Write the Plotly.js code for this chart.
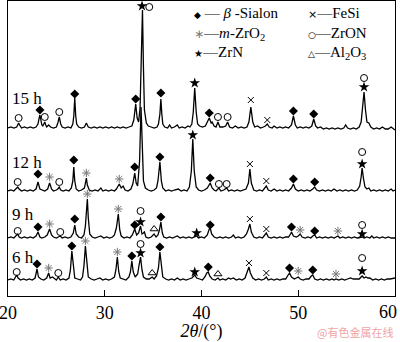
<!DOCTYPE html>
<html>
<head>
<meta charset="utf-8">
<script src="https://cdn.plot.ly/plotly-3.0.1.min.js"></script>
<style>html,body{margin:0;padding:0;background:#fff;}#chart{width:400px;height:342px;}</style>
</head>
<body>
<div id="chart"></div>
<script>
// XRD patterns: [2theta, intensity above own baseline]
const pattern15h = [[20.0,0],[20.3,1],[20.6,0],[20.9,1],[21.0,3],[21.1,5],[21.2,3],[21.4,0],[21.7,1],[22.0,0],[22.3,1],[22.6,0],[22.9,1],[23.1,4],[23.2,9],[23.3,13],[23.4,8],[23.5,3],[23.6,2],[23.7,4],[23.8,6],[23.9,3],[24.0,1],[24.2,3],[24.4,1],[24.7,0],[25.0,1],[25.15,5],[25.3,11],[25.45,4],[25.6,1],[25.9,0],[26.2,1],[26.5,0],[26.7,4],[26.8,12],[26.9,30],[27.0,12],[27.1,4],[27.3,1],[27.6,0],[27.9,1],[28.1,5],[28.3,1],[28.6,0],[28.9,1],[29.2,0],[29.5,1],[29.8,0],[30.1,1],[30.4,0],[30.7,1],[31.0,0],[31.3,1],[31.6,0],[31.9,1],[32.2,0],[32.5,1],[32.8,2],[33.0,8],[33.2,24],[33.35,10],[33.5,6],[33.65,20],[33.8,100],[33.9,118],[34.0,60],[34.1,18],[34.3,5],[34.5,2],[34.8,1],[35.1,0],[35.4,1],[35.55,4],[35.7,14],[35.8,29],[35.9,14],[36.0,4],[36.2,1],[36.5,0],[36.7,3],[36.9,0],[37.2,1],[37.5,3],[37.7,0],[38.0,1],[38.3,0],[38.6,2],[38.8,1],[39.0,4],[39.15,16],[39.3,40],[39.45,16],[39.6,4],[39.8,2],[40.1,1],[40.4,2],[40.6,6],[40.8,10],[41.0,5],[41.1,6],[41.3,2],[41.5,1],[41.7,6],[41.9,1],[42.2,1],[42.5,2],[42.7,6],[42.9,1],[43.2,0],[43.5,2],[43.8,0],[44.1,1],[44.4,0],[44.7,1],[44.9,6],[45.1,21],[45.3,6],[45.5,1],[45.8,2],[46.1,0],[46.4,1],[46.6,2],[46.8,4],[47.0,1],[47.3,0],[47.5,2],[47.8,0],[48.1,1],[48.4,0],[48.7,1],[49.0,0],[49.3,3],[49.5,12],[49.7,3],[49.9,0],[50.2,1],[50.5,0],[50.8,1],[51.1,0],[51.4,2],[51.6,9],[51.8,2],[52.0,0],[52.3,1],[52.6,-1],[52.9,0],[53.2,-1],[53.5,0],[53.8,-1],[54.1,0],[54.4,-1],[54.7,0],[54.9,3],[55.1,0],[55.4,-1],[55.7,0],[56.0,-1],[56.3,1],[56.5,6],[56.65,20],[56.8,36],[56.95,18],[57.1,6],[57.3,5],[57.5,1],[57.8,-1],[58.1,0],[58.4,-1],[58.7,1],[59.0,-1],[59.3,-1],[59.6,1],[59.8,-1],[60.0,-2]];

const pattern12h = [[20.0,0],[20.3,1],[20.6,0],[20.85,2],[21.0,4],[21.15,2],[21.4,0],[21.7,1],[22.0,0],[22.3,1],[22.6,0],[22.9,2],[23.1,9],[23.3,2],[23.5,1],[23.8,0],[24.1,2],[24.3,8],[24.5,2],[24.7,0],[25.0,1],[25.15,2],[25.3,4],[25.45,1],[25.7,0],[26.0,1],[26.3,0],[26.55,3],[26.7,10],[26.8,24],[26.9,10],[27.05,2],[27.3,0],[27.6,1],[27.9,3],[28.0,8],[28.1,13],[28.2,6],[28.4,1],[28.7,0],[29.0,1],[29.3,0],[29.6,3],[29.8,0],[30.1,1],[30.4,0],[30.7,1],[31.0,0],[31.2,2],[31.5,7],[31.7,3],[31.9,5],[32.1,1],[32.4,0],[32.7,2],[32.9,7],[33.1,18],[33.25,8],[33.4,5],[33.6,30],[33.75,84],[33.9,40],[34.0,10],[34.2,3],[34.5,1],[34.8,0],[35.1,1],[35.35,3],[35.5,10],[35.7,29],[35.85,10],[36.0,3],[36.3,0],[36.6,1],[36.9,0],[37.2,1],[37.6,2],[37.9,0],[38.2,1],[38.5,0],[38.75,4],[38.95,20],[39.1,52],[39.25,20],[39.45,4],[39.7,1],[40.0,0],[40.3,1],[40.6,3],[40.9,8],[41.1,3],[41.3,1],[41.5,0],[41.8,3],[42.0,0],[42.3,1],[42.6,3],[42.8,0],[43.1,1],[43.4,0],[43.7,1],[44.0,0],[44.3,1],[44.6,2],[44.85,8],[45.0,22],[45.15,8],[45.4,1],[45.7,0],[46.0,1],[46.3,0],[46.5,2],[46.7,5],[46.9,1],[47.2,0],[47.5,2],[47.8,0],[48.1,1],[48.4,0],[48.7,1],[49.0,0],[49.3,3],[49.5,7],[49.7,2],[50.0,0],[50.3,1],[50.6,0],[50.9,1],[51.2,0],[51.5,2],[51.7,4],[51.9,1],[52.2,0],[52.5,1],[52.8,0],[53.1,1],[53.4,0],[53.7,2],[54.0,0],[54.3,1],[54.6,0],[54.9,1],[55.2,0],[55.5,1],[55.8,0],[56.1,1],[56.35,5],[56.5,14],[56.6,23],[56.75,12],[56.9,4],[57.1,2],[57.3,3],[57.5,0],[57.8,1],[58.1,0],[58.4,1],[58.7,0],[59.0,1],[59.3,0],[59.6,2],[59.8,0],[60.0,1]];

const pattern9h = [[20.0,0],[20.3,1],[20.6,0],[20.85,2],[21.0,4],[21.15,1],[21.4,0],[21.7,1],[22.0,0],[22.3,1],[22.6,0],[22.9,2],[23.1,6],[23.3,1],[23.5,0],[23.8,1],[24.05,3],[24.3,9],[24.5,3],[24.7,1],[25.0,0],[25.2,1],[25.4,2],[25.6,0],[25.9,1],[26.2,0],[26.5,1],[26.75,5],[26.9,13],[27.05,4],[27.3,1],[27.6,0],[27.85,3],[28.0,12],[28.1,28],[28.2,39],[28.3,20],[28.45,4],[28.7,1],[29.0,0],[29.3,1],[29.6,2],[29.9,0],[30.2,1],[30.5,0],[30.8,1],[31.0,3],[31.2,10],[31.4,24],[31.55,8],[31.7,2],[32.0,0],[32.3,1],[32.6,0],[32.85,3],[33.1,9],[33.3,3],[33.5,5],[33.7,12],[33.85,4],[34.0,5],[34.1,6],[34.25,1],[34.5,0],[34.8,1],[35.1,4],[35.3,1],[35.5,3],[35.65,8],[35.8,16],[35.95,5],[36.1,1],[36.4,0],[36.7,1],[37.0,0],[37.3,1],[37.5,2],[37.8,0],[38.1,1],[38.4,0],[38.7,1],[39.0,0],[39.3,1],[39.5,2],[39.7,0],[40.0,1],[40.3,0],[40.6,3],[40.8,9],[40.9,10],[41.05,4],[41.3,1],[41.6,0],[41.9,1],[42.2,0],[42.5,1],[42.8,0],[43.1,1],[43.3,3],[43.5,0],[43.8,1],[44.1,0],[44.4,1],[44.65,4],[44.85,9],[45.0,14],[45.15,6],[45.4,1],[45.7,0],[46.0,1],[46.3,0],[46.5,2],[46.7,5],[46.9,1],[47.2,0],[47.5,1],[47.8,0],[48.1,1],[48.4,0],[48.7,1],[49.0,1],[49.2,4],[49.3,6],[49.5,2],[49.8,1],[50.0,2],[50.2,4],[50.4,1],[50.7,0],[51.0,1],[51.3,0],[51.5,2],[51.7,3],[51.9,0],[52.2,1],[52.5,0],[52.8,1],[53.1,0],[53.4,1],[53.7,0],[54.0,1],[54.1,2],[54.3,0],[54.6,1],[54.9,0],[55.2,1],[55.5,0],[55.8,1],[56.1,0],[56.4,1],[56.6,1],[56.8,0],[57.1,1],[57.4,0],[57.6,2],[57.8,0],[58.1,1],[58.4,0],[58.7,1],[59.0,0],[59.3,1],[59.6,0],[60.0,0]];

const pattern6h = [[20.0,0],[20.3,1],[20.6,0],[20.8,3],[20.9,5],[21.05,2],[21.3,0],[21.6,1],[21.9,0],[22.2,1],[22.5,0],[22.8,2],[22.9,6],[23.0,11],[23.15,3],[23.4,1],[23.7,0],[24.0,2],[24.2,7],[24.35,2],[24.6,3],[24.8,1],[25.0,0],[25.2,3],[25.4,0],[25.7,1],[26.0,0],[26.3,2],[26.45,10],[26.6,29],[26.75,12],[26.9,2],[27.2,1],[27.5,0],[27.7,3],[27.85,14],[28.0,34],[28.15,14],[28.3,3],[28.6,1],[28.9,0],[29.2,1],[29.5,2],[29.8,0],[30.1,1],[30.4,0],[30.7,1],[31.0,3],[31.15,10],[31.3,23],[31.45,8],[31.6,2],[31.9,1],[32.2,0],[32.5,3],[32.65,8],[32.8,19],[32.95,8],[33.15,3],[33.4,6],[33.55,15],[33.7,23],[33.85,10],[34.0,3],[34.3,1],[34.6,1],[34.9,3],[35.1,1],[35.35,4],[35.55,12],[35.7,28],[35.85,12],[36.0,3],[36.3,1],[36.6,0],[36.9,1],[37.2,0],[37.5,2],[37.8,0],[38.1,1],[38.4,0],[38.7,1],[39.0,2],[39.3,5],[39.5,2],[39.8,1],[40.1,0],[40.35,3],[40.55,7],[40.7,8],[40.85,4],[41.1,1],[41.4,0],[41.7,2],[41.9,0],[42.2,1],[42.5,0],[42.8,2],[43.0,1],[43.3,2],[43.6,0],[43.9,1],[44.2,0],[44.5,2],[44.75,8],[44.9,13],[45.05,7],[45.3,2],[45.6,0],[45.9,1],[46.2,0],[46.5,1],[46.7,3],[46.9,0],[47.2,1],[47.5,0],[47.8,1],[48.1,0],[48.4,1],[48.7,1],[48.95,5],[49.1,7],[49.3,3],[49.6,1],[49.8,2],[50.0,3],[50.2,1],[50.5,0],[50.8,1],[51.1,1],[51.35,4],[51.5,5],[51.7,1],[52.0,0],[52.3,1],[52.6,0],[52.9,1],[53.2,0],[53.5,1],[53.7,0],[53.9,1],[54.2,0],[54.5,1],[54.8,0],[55.1,1],[55.4,2],[55.7,1],[56.0,1],[56.3,1],[56.5,3],[56.6,4],[56.8,2],[57.0,3],[57.2,2],[57.4,2],[57.7,0],[58.0,1],[58.3,0],[58.6,1],[58.9,0],[59.2,1],[59.5,1],[59.8,2],[60.0,2]];

// stacking offsets of each pattern (same intensity units)
const seriesNames = ['15 h','12 h','9 h','6 h'];
const seriesOffsets = [168, 105, 58, 16];

// phase identification marks (2theta, stacked intensity)
const betaX = [23.3,26.9,33.2,35.8,40.8,49.5,51.6, 23.1,26.8,33.1,35.7,40.9,49.5,51.7, 23.1,26.9,33.1,35.8,40.9,49.3,51.7, 23.0,26.6,32.8,35.7,40.7,49.1,51.5];
const betaY = [186,202,197,203,183,185,182, 122,136,129,139,118,117,114, 69,77,71,79,71,69,65, 32,50,40,49,29,28,26];
const zro2X = [24.3,28.1,31.5, 24.3,28.2,31.4,50.2,54.1, 24.2,28.0,31.3,50.0,53.9];
const zro2Y = [119,123,117, 72,102,87,66,65, 28,55,44,25,22];
const zrnX = [33.85,39.3,56.8, 39.1,56.6, 33.7,39.5,56.6, 33.7,39.3,56.6];
const zrnY = [290,213,209, 161,132, 74,63,62, 43,24,25];
const zronX = [21.1,23.8,25.3,34.6,41.7,42.7,56.8, 21.0,25.3,41.8,42.6,56.6, 21.0,25.4,33.7,56.6, 20.9,25.2,33.7,56.6];
const zronY = [178,179,184,289,179,179,218, 114,114,112,112,144, 65,64,85,71, 24,23,52,38];
const fesiX = [45.1,46.8, 45.0,46.7, 45.0,46.7, 44.9,46.7];
const fesiY = [196,176, 132,115, 77,67, 33,23];
const al2o3X = [35.1, 34.9, 41.7];
const al2o3Y = [67, 23, 22];

const xTicks = [20,30,40,50,60];
const xTickText = ['20','30','40','50',''];   // "60" is drawn slightly inset, as in the source figure
const lastTickLabel = '60';

const FONT = 'Liberation Serif, Times New Roman, serif';
const patterns = [pattern15h, pattern12h, pattern9h, pattern6h];
const traces = patterns.map((p, i) => ({
  type: 'scatter', mode: 'lines', name: seriesNames[i],
  x: p.map(d => d[0]), y: p.map(d => d[1] + seriesOffsets[i]),
  line: {color: '#000', width: 1.3}, hoverinfo: 'skip'
}));

function marks(x, y, symbol, size, color, filled) {
  return {
    type: 'scatter', mode: 'markers', x: x, y: y, hoverinfo: 'skip',
    marker: filled ? {symbol: symbol, size: size, color: color, line: {width: 0}}
                   : {symbol: symbol, size: size, color: color, line: {color: color, width: 1}}
  };
}
traces.push(marks(betaX, betaY, 'diamond', 7, '#000', true));
traces.push(marks(zro2X, zro2Y, 'asterisk-open', 7, '#777', false));
traces.push(marks(zrnX, zrnY, 'star', 8, '#000', true));
traces.push(marks(zronX, zronY, 'circle-open', 7, '#000', false));
traces.push(marks(fesiX, fesiY, 'x-thin-open', 6, '#000', false));
traces.push(marks(al2o3X, al2o3Y, 'triangle-up-open', 7, '#000', false));

const labelY = [0.671, 0.454, 0.275, 0.129];
const annotations = seriesNames.map((n, i) => ({
  text: n, xref: 'paper', yref: 'paper', x: 0.005, y: labelY[i],
  xanchor: 'left', yanchor: 'middle', showarrow: false,
  font: {family: FONT, size: 17, color: '#000'}
}));

const sym = (ch, size, color) => '<span style="font-family:DejaVu Sans;font-size:' + size + 'px;color:' + color + '">' + ch + '</span>';
const legendCol1 = [
  sym('◆', 9, '#000') + ' — <i>β</i> -Sialon',
  sym('∗', 12, '#777') + '—<i>m</i>-ZrO<sub>2</sub>',
  sym('★', 10, '#000') + '—ZrN'
];
const legendCol2 = [
  sym('×', 11, '#000') + '—FeSi',
  sym('○', 9, '#000') + '—ZrON',
  sym('△', 9, '#000') + '—Al<sub>2</sub>O<sub>3</sub>'
];
[[legendCol1, 0.479], [legendCol2, 0.772]].forEach(([lines, px]) => {
  annotations.push({text: lines.join('<br>'), xref: 'paper', yref: 'paper', x: px, y: 0.99,
    xanchor: 'left', yanchor: 'top', align: 'left', showarrow: false, borderpad: 0,
    font: {family: FONT, size: 15, color: '#000'}});
});
annotations.push({text: lastTickLabel, xref: 'paper', yref: 'paper', x: 0.982, y: -0.054,
  xanchor: 'center', yanchor: 'middle', showarrow: false,
  font: {family: FONT, size: 18, color: '#000'}});
annotations.push({text: '@有色金属在线', xref: 'paper', yref: 'paper', x: 1.0, y: -0.122,
  xanchor: 'right', yanchor: 'middle', showarrow: false,
  font: {family: 'Noto Sans CJK SC', size: 11, color: '#eea4a4'}});

const layout = {
  width: 400, height: 342,
  margin: {l: 8, r: 5, t: 1, b: 46},
  paper_bgcolor: '#fff', plot_bgcolor: '#fff',
  showlegend: false,
  font: {family: FONT, color: '#000'},
  xaxis: {
    range: [20, 60], tickvals: xTicks, ticktext: xTickText,
    ticks: 'inside', ticklen: 6, tickwidth: 1, tickcolor: '#000',
    ticklabeloverflow: 'allow',
    showline: true, linecolor: '#000', linewidth: 1.2, mirror: true,
    showgrid: false, zeroline: false,
    tickfont: {family: FONT, size: 18, color: '#000'},
    title: {text: '<i>2θ</i>/(°)', font: {family: FONT, size: 18, color: '#000'}, standoff: 2},
    automargin: false
  },
  yaxis: {
    range: [0, 295], showticklabels: false, ticks: '',
    showline: true, linecolor: '#000', linewidth: 1.2, mirror: true,
    showgrid: false, zeroline: false, automargin: false
  },
  annotations: annotations
};

Plotly.newPlot('chart', traces, layout, {staticPlot: true, displayModeBar: false});
</script>
</body>
</html>
